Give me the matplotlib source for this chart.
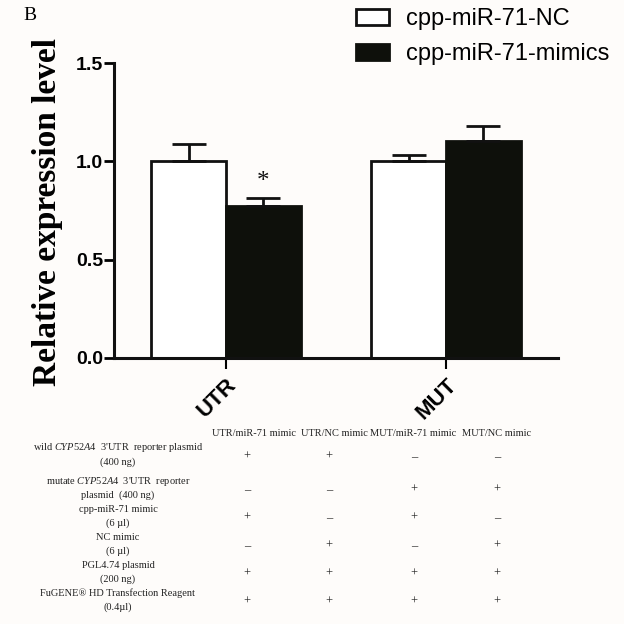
import numpy as np
import matplotlib
matplotlib.use("Agg")
from matplotlib import pyplot as plt
from matplotlib.patches import Patch

# data
groups = ["UTR", "MUT"]
series = ["cpp-miR-71-NC", "cpp-miR-71-mimics"]
nc_mean = [1.00, 1.00]
nc_err = [0.09, 0.03]
mim_mean = [0.775, 1.105]
mim_err = [0.04, 0.075]
star_flags = [True, False]   # significance marks on the mimics bars

col_heads = ["UTR/miR-71 mimic", "UTR/NC mimic", "MUT/miR-71 mimic", "MUT/NC mimic"]
row_heads = [
    ["wild $\\it{CYP52A4}$  3'UTR  reporter plasmid", "(400 ng)"],
    ["mutate $\\it{CYP52A4}$  3'UTR  reporter", "plasmid  (400 ng)"],
    ["cpp-miR-71 mimic", "(6 \u00b5l)"],
    ["NC mimic", "(6 \u00b5l)"],
    ["PGL4.74 plasmid", "(200 ng)"],
    ["FuGENE\u00ae HD Transfection Reagent", "(0.4\u00b5l)"],
]
signs = [
    ["+", "+", "\u2013", "\u2013"],
    ["\u2013", "\u2013", "+", "+"],
    ["+", "\u2013", "+", "\u2013"],
    ["\u2013", "+", "\u2013", "+"],
    ["+", "+", "+", "+"],
    ["+", "+", "+", "+"],
]

plt.rcParams['mathtext.fontset'] = 'custom'
plt.rcParams['mathtext.rm'] = 'Liberation Serif'
plt.rcParams['mathtext.it'] = 'Liberation Serif:italic'

bg = "#fefcfa"
W = 624.0
fig = plt.figure(figsize=(6.24, 6.24), dpi=100, facecolor=bg)
ax = fig.add_axes([114 / W, 1 - 358 / W, 444 / W, 295 / W])
ax.set_facecolor(bg)

x = np.arange(len(groups))
bw = 0.34
ax.bar(x - bw / 2, nc_mean, bw, color="white", edgecolor="#111111", linewidth=2,
       yerr=[np.zeros(len(nc_err)), nc_err], capsize=12,
       error_kw=dict(elinewidth=2, capthick=2, ecolor="#111111"), label=series[0], zorder=2)
ax.bar(x + bw / 2, mim_mean, bw, color="#0e100b", edgecolor="#0e100b", linewidth=2,
       yerr=[np.zeros(len(mim_err)), mim_err], capsize=12,
       error_kw=dict(elinewidth=2, capthick=2, ecolor="#111111"), label=series[1], zorder=2)

for i in range(len(groups)):
    if star_flags[i]:
        ax.text(x[i] + bw / 2, mim_mean[i] + mim_err[i] + 0.025, "*", ha="center", va="bottom",
                fontsize=18, family="Liberation Serif", color="#111111")

ax.set_xlim(-0.51, 1.51)
ax.set_ylim(0, 1.5)
ax.set_yticks([0.0, 0.5, 1.0, 1.5])
ax.set_yticklabels(["0.0", "0.5", "1.0", "1.5"], fontsize=14, fontweight="bold",
                   family="Liberation Sans")
ax.set_xticks(x)
ax.set_xticklabels(groups, rotation=45, ha="right", rotation_mode="anchor",
                   fontsize=16, fontweight="bold", family="Liberation Sans")
ax.tick_params(axis="y", direction="out", length=7, width=2, pad=1)
ax.tick_params(axis="x", direction="out", length=8, width=1.5, pad=4)
for s in ["top", "right"]:
    ax.spines[s].set_visible(False)
for s in ["left", "bottom"]:
    ax.spines[s].set_linewidth(2.2)
    ax.spines[s].set_color("#111111")

ax.set_ylabel("Relative expression level", fontsize=24, fontweight="bold",
              family="Liberation Serif")
ax.yaxis.set_label_coords(-0.114, 0.495)

fig.text(30 / W, 1 - 15 / W, "B", fontsize=14, family="Liberation Serif", va="center", ha="center")

handles = [Patch(facecolor="white", edgecolor="#111111", linewidth=2),
           Patch(facecolor="#0e100b", edgecolor="#0e100b", linewidth=2)]
fig.legend(handles, series, loc="upper left", bbox_to_anchor=(356 / W, 1 - 8 / W),
           frameon=False, handlelength=1.4, handleheight=0.65,
           handletextpad=0.7, labelspacing=0.55, borderpad=0, borderaxespad=0,
           prop=dict(family="Liberation Sans", size=17))

# table under the chart
col_x = [254, 334, 413, 497]
sign_x = [247, 329, 414, 497]
head_y = 433
row_y = [455, 488, 516, 544, 572, 600]
tfont = dict(family="Liberation Serif", fontsize=7.5, color="#222222")
for j, h in enumerate(col_heads):
    fig.text(col_x[j] / W, 1 - head_y / W, h, ha="center", va="center", **tfont)
for i, lines in enumerate(row_heads):
    fig.text(118 / W, 1 - (row_y[i] - 7) / W, lines[0], ha="center", va="center", **tfont)
    fig.text(118 / W, 1 - (row_y[i] + 7) / W, lines[1], ha="center", va="center", **tfont)
    for j in range(len(col_heads)):
        fig.text(sign_x[j] / W, 1 - (row_y[i] + 2) / W, signs[i][j], ha="center", va="center",
                 family="Liberation Serif", fontsize=9, color="#222222")

fig.savefig("out.png", dpi=100, facecolor=bg)
